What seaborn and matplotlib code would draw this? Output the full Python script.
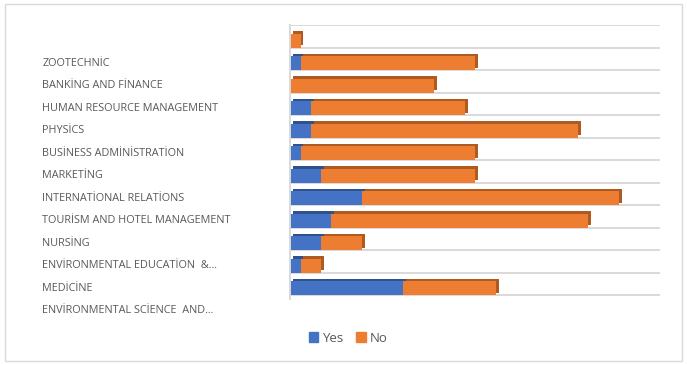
import matplotlib
matplotlib.use("Agg")
import matplotlib.pyplot as plt
import matplotlib.patheffects as pe
import matplotlib.transforms as mtransforms
import numpy as np
import pandas as pd
import seaborn as sns

# Data (top to bottom as shown)
departments = [
    "ZOOTECHNİC",
    "BANKİNG AND FİNANCE",
    "HUMAN RESOURCE MANAGEMENT",
    "PHYSİCS",
    "BUSİNESS ADMİNİSTRATİON",
    "MARKETİNG",
    "INTERNATİONAL RELATİONS",
    "TOURİSM AND HOTEL MANAGEMENT",
    "NURSİNG",
    "ENVİRONMENTAL EDUCATİON  &...",
    "MEDİCİNE",
    "ENVİRONMENTAL SCİENCE  AND...",
]
yes = [0, 1, 0, 2, 2, 1, 3, 7, 4, 3, 1, 11]
no = [1, 17, 14, 15, 26, 17, 15, 25, 25, 4, 2, 9]

df = pd.DataFrame({"Department": departments, "Yes": yes, "No": no})

blue = "#4472C4"
orange = "#ED7D31"
text_gray = "#595959"
grid_gray = "#D9D9D9"

sns.set_theme(style="white")
plt.rcParams["font.family"] = ["Open Sans", "DejaVu Sans"]

fig = plt.figure(figsize=(6.87, 3.65), dpi=100)
ax = fig.add_axes([0.4225, 0.1795, 0.5385, 0.752])

bar_h = 0.62
# Yes segment via seaborn, No segment stacked after it
sns.barplot(data=df, y="Department", x="Yes", color=blue, orient="h",
            width=bar_h, ax=ax, saturation=1, order=departments)
n_yes = len(ax.patches)
ax.barh(np.arange(len(departments)), df["No"], left=df["Yes"], height=bar_h,
        color=orange)

# fake 3D depth on the bars
for i, p in enumerate(ax.patches):
    dark = "#2F528F" if i < n_yes else "#AE5A21"
    p.set_linewidth(0)
    if p.get_width() > 0:
        p.set_path_effects([pe.SimplePatchShadow(offset=(2, 1.8), shadow_rgbFace=dark, alpha=1),
                            pe.Normal()])

ax.set_xlim(0, 36)
ax.set_ylim(len(departments) - 0.5, -0.7)

# floor lines beneath each bar
for i in range(len(departments)):
    ax.axhline(i + bar_h / 2, color=grid_gray, lw=1.4, zorder=0)
ax.axhline(-0.7, color=grid_gray, lw=1.4, zorder=0)

for s in ["top", "right", "bottom"]:
    ax.spines[s].set_visible(False)
ax.spines["left"].set_color(grid_gray)
ax.spines["left"].set_linewidth(1.4)

ax.set_xlabel("")
ax.set_ylabel("")
ax.set_xticks([])
ax.tick_params(axis="y", length=0, pad=0)
offset = mtransforms.ScaledTranslation(-248 / 100, -21 / 100, fig.dpi_scale_trans)
for lab in ax.get_yticklabels():
    lab.set_ha("left")
    lab.set_fontsize(7.8)
    lab.set_color(text_gray)
    lab.set_transform(lab.get_transform() + offset)

handles = [plt.Rectangle((0, 0), 1, 1, color=blue), plt.Rectangle((0, 0), 1, 1, color=orange)]
fig.legend(handles, ["Yes", "No"], loc="center", bbox_to_anchor=(348 / 687, 1 - 338 / 365),
           ncol=2, frameon=False, fontsize=9.5, handlelength=0.7, handleheight=0.7,
           handletextpad=0.3, columnspacing=1.0, labelcolor=text_gray)

fig.patches.append(plt.Rectangle((5 / 687, 4 / 365), 677 / 687, 357 / 365,
                                 transform=fig.transFigure, fill=False,
                                 edgecolor=grid_gray, lw=1))

fig.savefig("out.png", dpi=100)
